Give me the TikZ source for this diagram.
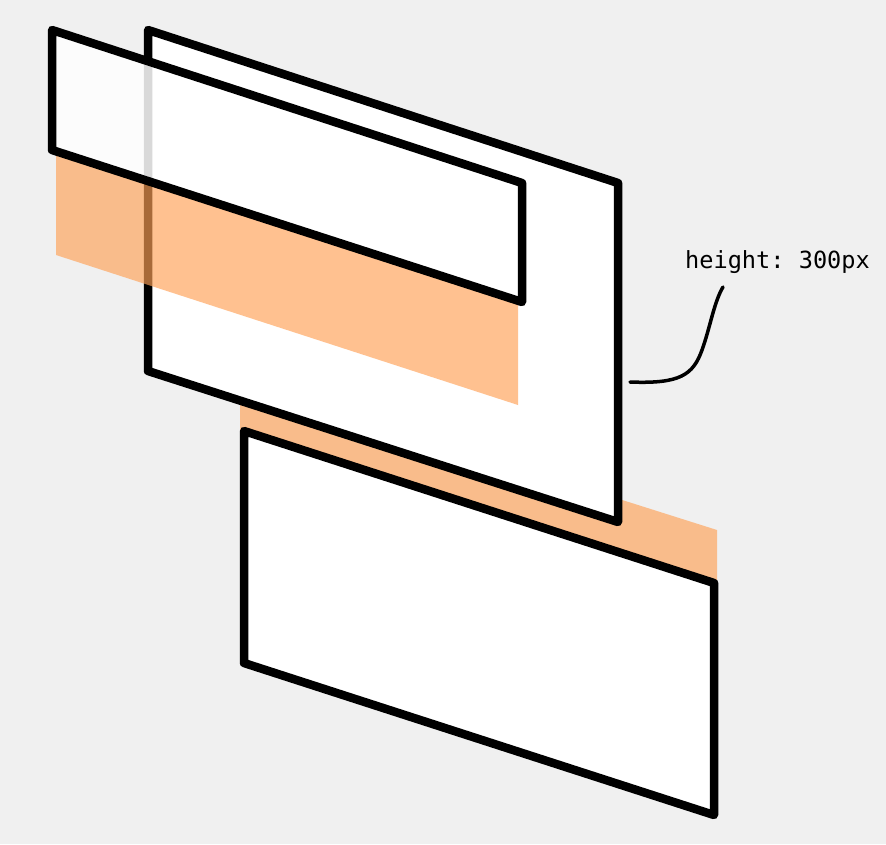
\documentclass[tikz,border=0pt]{standalone}
\usepackage{fontspec}
\setmonofont{DejaVu Sans Mono}
\definecolor{paper}{RGB}{240,240,240}
\definecolor{glow}{RGB}{255,162,88}
\tikzset{
	sheet/.style={draw=black, line width=8.5pt, line join=round, fill=white},
	glowband/.style={fill=glow, fill opacity=0.66},
}

\begin{document}
\begin{tikzpicture}[x=1pt, y=-1pt]
		%%%%% START %%%%%
		
		\fill[paper] (0, 0) rectangle (886, 844);
		\useasboundingbox (0, 0) rectangle (886, 844);
		
		% band behind the lower sheet
		\fill[glowband] (240, 379) -- (717, 530) -- (717, 584) -- (240, 431) -- cycle;
		\draw[sheet] (244, 431) -- (714, 583) -- (714, 815) -- (244, 663) -- cycle;
		
		% tall sheet at the back
		\draw[sheet] (148, 30) -- (618, 183) -- (618, 522) -- (148, 371) -- cycle;
		
		% band under the front sheet
		\fill[glowband] (56, 151) -- (518, 301) -- (518, 405) -- (56, 255) -- cycle;
		\draw[sheet, fill opacity=0.85] (52, 30) -- (522, 183) -- (522, 302) -- (52, 150) -- cycle;
		
		\node[anchor=base, inner sep=0pt, font=\ttfamily\fontsize{23.6}{28}\selectfont] (heightnote) at (777.5, 268) {height: 300px};
		\coordinate (notetail) at (630, 382);
		\coordinate (notetip) at (723, 287);
		\draw[line width=3.5pt, line cap=round] (notetail) .. controls (680, 384) and (693, 375) .. (702, 350) .. controls (710, 328) and (714, 302) .. (notetip);
		
		%%%%% END %%%%%
	\end{tikzpicture}
\end{document}
